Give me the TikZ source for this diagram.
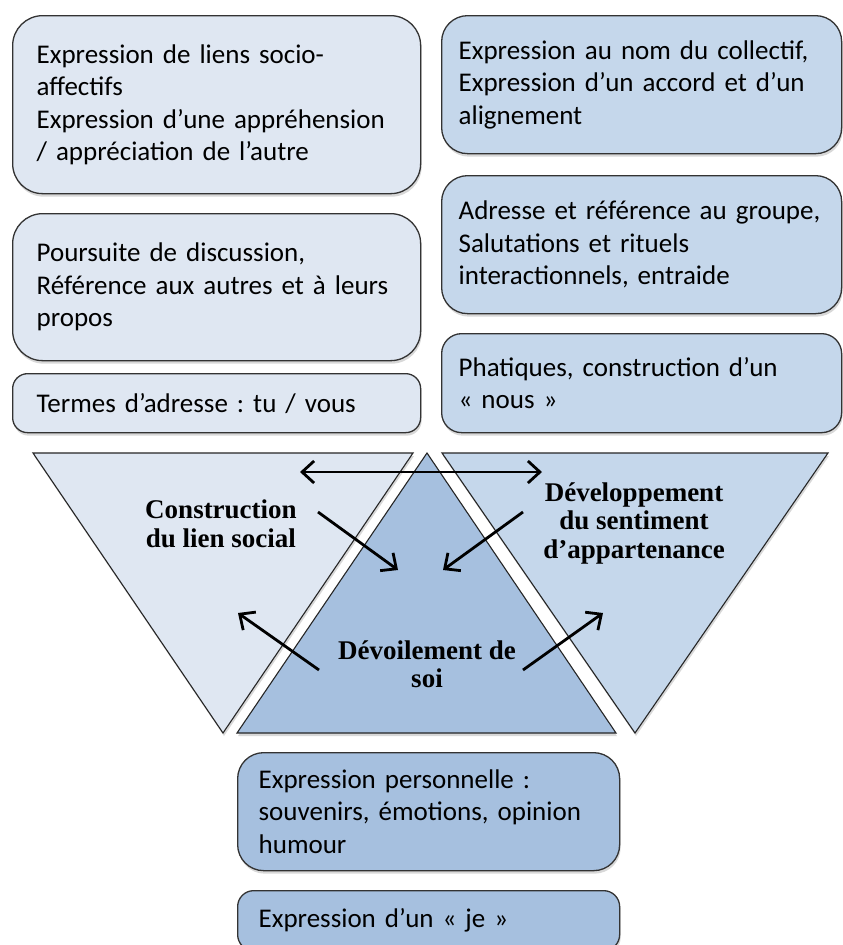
\documentclass[tikz,border=0pt]{standalone}
\usepackage{fontspec}
\setmainfont{Carlito}[WordSpace=0.9]
\newfontfamily\titrefont{Liberation Serif}
\usetikzlibrary{arrows.meta,shadows}
\frenchspacing

\definecolor{bleuclair}{RGB}{223,231,242}
\definecolor{bleumoyen}{RGB}{197,215,235}
\definecolor{bleufonce}{RGB}{166,192,223}

\tikzset{
    boite/.style={draw=black!80, line width=1.3pt, anchor=north west,
        inner xsep=24pt, inner ysep=0pt, align=left,
        font=\fontsize{27}{32.5}\selectfont,
        drop shadow={shadow xshift=1pt, shadow yshift=-3pt, opacity=0.3}},
    triangle/.style={draw=black!85, line width=1.1pt,
        drop shadow={shadow xshift=1pt, shadow yshift=-3pt, opacity=0.3}},
    titre/.style={align=center, font=\titrefont\bfseries\fontsize{27}{28.5}\selectfont},
    pointe/.tip={Straight Barb[length=12pt,width=22pt,line width=2.8pt]},
    fleche/.style={line width=2.8pt, -pointe},
    double fleche/.style={line width=2.8pt, pointe-pointe}
}

\begin{document}
\begin{tikzpicture}[x=1pt,y=-1pt]
    \clip (0,0) rectangle (843,945);
    \fill[white] (0,0) rectangle (843,945);

    % Colonne de gauche
    \node[boite, fill=bleuclair, rounded corners=30pt, text width=360pt, minimum height=178pt] (liens) at (12,15)
        {Expression de liens socio-\\affectifs\\Expression d’une appréhension\\/ appréciation de l’autre};
    \node[boite, fill=bleuclair, rounded corners=30pt, text width=360pt, minimum height=147pt] (discussion) at (12,213)
        {Poursuite de discussion,\\Référence aux autres et à leurs\\propos};
    \node[boite, fill=bleuclair, rounded corners=15pt, text width=360pt, minimum height=59pt] (adresse) at (12,373)
        {Termes d’adresse : tu / vous};

    % Colonne de droite
    \node[boite, fill=bleumoyen, rounded corners=26pt, text width=366pt, inner xsep=17pt, minimum height=138pt] (collectif) at (441,15)
        {Expression au nom du collectif,\\Expression d’un accord et d’un\\alignement};
    \node[boite, fill=bleumoyen, rounded corners=26pt, text width=366pt, inner xsep=17pt, minimum height=138pt] (groupe) at (441,175)
        {Adresse et référence au groupe,\\Salutations et rituels\\interactionnels, entraide};
    \node[boite, fill=bleumoyen, rounded corners=20pt, text width=366pt, inner xsep=17pt, minimum height=99pt] (nous) at (441,333)
        {Phatiques, construction d’un\\« nous »};

    % Triangles
    \draw[triangle, fill=bleuclair] (33,453) -- (413,453) -- (223,733) -- cycle;
    \draw[triangle, fill=bleumoyen] (442,453) -- (828,453) -- (635,733) -- cycle;
    \draw[triangle, fill=bleufonce] (427,453) -- (616,733) -- (237,733) -- cycle;

    \node[titre] (social) at (221,524) {Construction\\du lien social};
    \node[titre] (appartenance) at (634,523) {Développement\\du sentiment\\d’appartenance};
    \node[titre] (soi) at (427,664) {Dévoilement de\\soi};

    % Fleches
    \coordinate (hg) at (300,472);
    \coordinate (hd) at (542,472);
    \coordinate (s1) at (318,512);
    \coordinate (a1) at (523,512);
    \coordinate (cg) at (398,570);
    \coordinate (cd) at (443,570);
    \coordinate (v1) at (319,670);
    \coordinate (v2) at (523,670);
    \coordinate (bg) at (238,613);
    \coordinate (bd) at (603,613);
    \draw[double fleche] (hg) -- (hd);
    \draw[fleche] (s1) -- (cg);
    \draw[fleche] (a1) -- (cd);
    \draw[fleche] (v1) -- (bg);
    \draw[fleche] (v2) -- (bd);

    % Bas
    \node[boite, fill=bleufonce, rounded corners=26pt, text width=340pt, minimum height=118pt, inner xsep=21pt] (perso) at (237,752)
        {Expression personnelle :\\souvenirs, émotions, opinion\\humour};
    \node[boite, fill=bleufonce, rounded corners=16pt, text width=340pt, minimum height=60pt, inner xsep=21pt] (je) at (237,890)
        {Expression d’un « je »};
\end{tikzpicture}
\end{document}
